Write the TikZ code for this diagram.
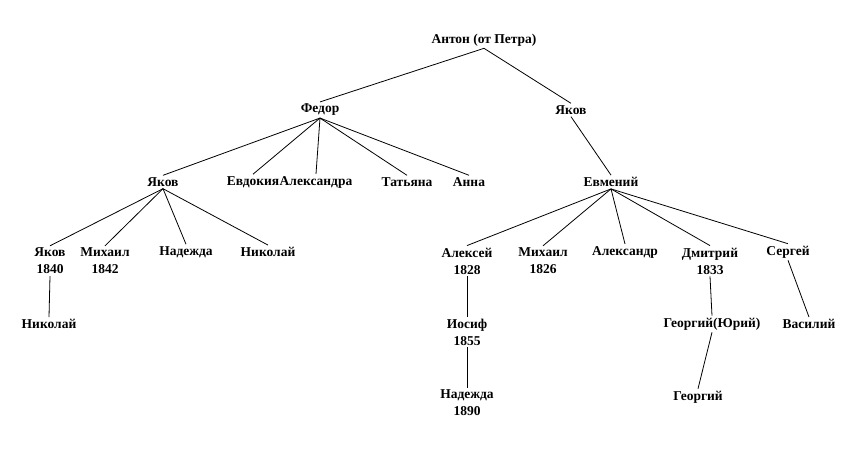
\documentclass[tikz,border=0pt]{standalone}
\usepackage{fontspec}
\setmainfont{Liberation Serif}
\begin{document}
\begin{tikzpicture}[x=1pt,y=-1pt,
  person/.style={font=\bfseries\fontsize{13.5}{17}\selectfont,align=center,inner sep=2pt},
  link/.style={draw,line width=0.8pt}]
\useasboundingbox (0,0) rectangle (868,457);
\node[person] (a) at (484,40) {Антон (от Петра)};
\node[person] (f) at (320,110) {Федор};
\node[person] (y) at (571,110) {Яков};
\node[person] (y2) at (163,182) {Яков};
\node[person] (ev) at (253,182) {Евдокия};
\node[person] (al) at (316,182) {Александра};
\node[person] (ta) at (407,182) {Татьяна};
\node[person] (an) at (469,182) {Анна};
\node[person] (em) at (611,182) {Евмений};
\node[person] (y3) at (50,261) {Яков\\1840};
\node[person] (m1) at (105,261) {Михаил\\1842};
\node[person] (n1) at (186,252) {Надежда};
\node[person] (ni) at (268,252) {Николай};
\node[person] (ak) at (467,261) {Алексей\\1828};
\node[person] (m2) at (543,261) {Михаил\\1826};
\node[person] (ar) at (625,252) {Александр};
\node[person] (d) at (710,261) {Дмитрий\\1833};
\node[person] (s) at (788,252) {Сергей};
\node[person] (ni2) at (49,324) {Николай};
\node[person] (io) at (467,332) {Иосиф\\1855};
\node[person] (gy) at (712,324) {Георгий(Юрий)};
\node[person] (v) at (809,324) {Василий};
\node[person] (n2) at (467,403) {Надежда\\1890};
\node[person] (g) at (698,397) {Георгий};
\foreach \p/\c in {a/f,a/y,f/y2,f/ev,f/al,f/ta,f/an,y/em,y2/y3,y2/m1,y2/n1,y2/ni,
  em/ak,em/m2,em/ar,em/d,em/s,y3/ni2,ak/io,io/n2,d/gy,gy/g,s/v}
  \draw[link] (\p.south) -- (\c.north);
\end{tikzpicture}
\end{document}
